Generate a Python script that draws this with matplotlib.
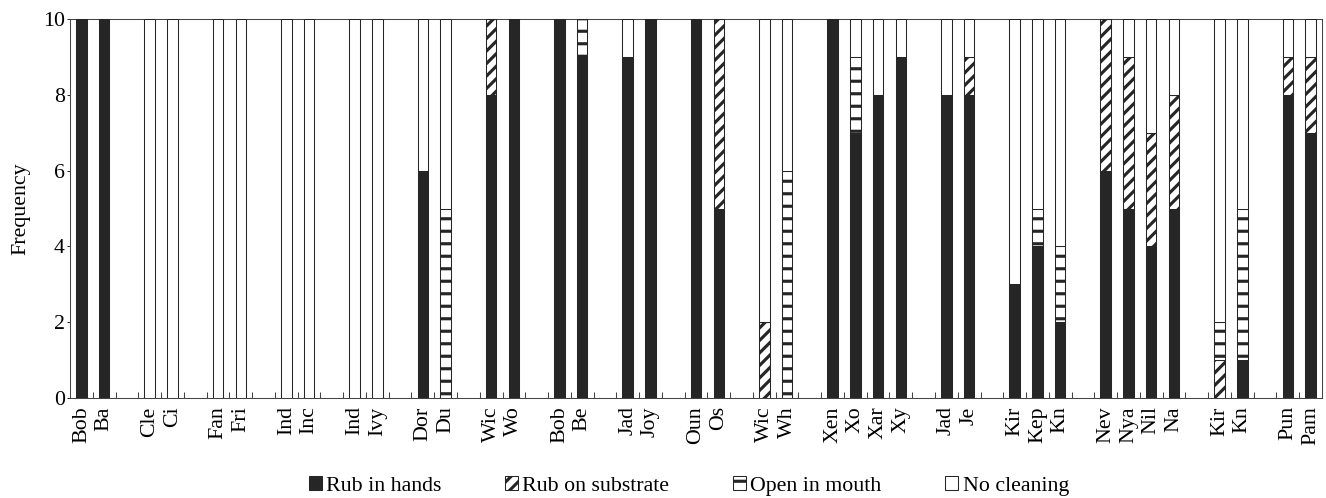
import numpy as np
import matplotlib
matplotlib.use("Agg")
import matplotlib.pyplot as plt
from matplotlib.patches import Patch

plt.rcParams["font.family"] = ["Liberation Serif", "DejaVu Serif"]
plt.rcParams["hatch.linewidth"] = 3.0

# bar labels, grouped; groups are separated by one empty slot
groups = [
    ["Bob", "Ba"], ["Cle", "Ci"], ["Fan", "Fri"], ["Ind", "Inc"], ["Ind", "Ivy"],
    ["Dor", "Du"], ["Wic", "Wo"], ["Bob", "Be"], ["Jad", "Joy"], ["Oun", "Os"],
    ["Wic", "Wh"], ["Xen", "Xo", "Xar", "Xy"], ["Jad", "Je"], ["Kir", "Kep", "Kn"],
    ["Nev", "Nya", "Nil", "Na"], ["Kir", "Kn"], ["Pun", "Pam"],
]

# frequencies per bar, in label order
rub_hands = [10, 10, 0, 0, 0, 0, 0, 0, 0, 0, 6, 0, 8, 10, 10, 9, 9, 10, 10, 5,
             0, 0, 10, 7, 8, 9, 8, 8, 3, 4, 2, 6, 5, 4, 5, 0, 1, 8, 7]
rub_substrate = [0, 0, 0, 0, 0, 0, 0, 0, 0, 0, 0, 0, 2, 0, 0, 0, 0, 0, 0, 5,
                 2, 0, 0, 0, 0, 0, 0, 1, 0, 0, 0, 4, 4, 3, 3, 1, 0, 1, 2]
open_mouth = [0, 0, 0, 0, 0, 0, 0, 0, 0, 0, 0, 5, 0, 0, 0, 1, 0, 0, 0, 0,
              0, 6, 0, 2, 0, 0, 0, 0, 0, 1, 2, 0, 0, 0, 0, 1, 4, 0, 0]
no_cleaning = [0, 0, 10, 10, 10, 10, 10, 10, 10, 10, 4, 5, 0, 0, 0, 0, 1, 0, 0, 0,
               8, 4, 0, 1, 2, 1, 2, 1, 7, 5, 6, 0, 1, 3, 2, 8, 5, 1, 1]

series = ["Rub in hands", "Rub on substrate", "Open in mouth", "No cleaning"]

# slot positions
labels, pos = [], []
slot = 1
for g in groups:
    for name in g:
        labels.append(name)
        pos.append(slot)
        slot += 1
    slot += 1
n_slots = slot - 2
pos = np.array(pos)

dark = "#262626"
styles = [
    dict(color=dark, hatch=None),
    dict(color="white", hatch="//"),
    dict(color="white", hatch="-"),
    dict(color="white", hatch=None),
]

fig = plt.figure(figsize=(1327 / 75, 498 / 75), dpi=75)
ax = fig.add_axes([0.0528, 0.2008, 0.9434, 0.761])

bottom = np.zeros(len(labels))
for vals, st in zip([rub_hands, rub_substrate, open_mouth, no_cleaning], styles):
    vals = np.array(vals, dtype=float)
    ax.bar(pos, vals, width=0.46, bottom=bottom, color=st["color"],
           edgecolor=dark, hatch=st["hatch"], linewidth=1.0, zorder=3)
    bottom += vals

ax.set_xlim(0.5, n_slots + 0.5)
ax.set_ylim(0, 10)
ax.set_yticks([0, 2, 4, 6, 8, 10])
ax.set_xticks(pos)
ax.set_xticklabels(labels, rotation=90, fontsize=21)
ax.set_xticks(np.arange(1.5, n_slots, 1.0), minor=True)
ax.tick_params(axis="x", which="major", length=0, pad=8)
ax.tick_params(axis="x", which="minor", direction="in", length=6, width=1, color="#444444")
ax.tick_params(axis="y", direction="out", length=3, labelsize=21, pad=2)
ax.set_ylabel("Frequency", fontsize=21, labelpad=12)
for s in ax.spines.values():
    s.set_linewidth(1.0)
    s.set_color("#444444")

handles = [Patch(facecolor=st["color"], edgecolor=dark, hatch=st["hatch"], linewidth=1.0)
           for st in styles]
fig.legend(handles, series, loc="lower center", bbox_to_anchor=(0.519, -0.035), ncol=4,
           frameon=False, fontsize=21, handlelength=0.6, handleheight=0.6,
           handletextpad=0.2, columnspacing=2.9)

fig.savefig("out.png", dpi=75)
